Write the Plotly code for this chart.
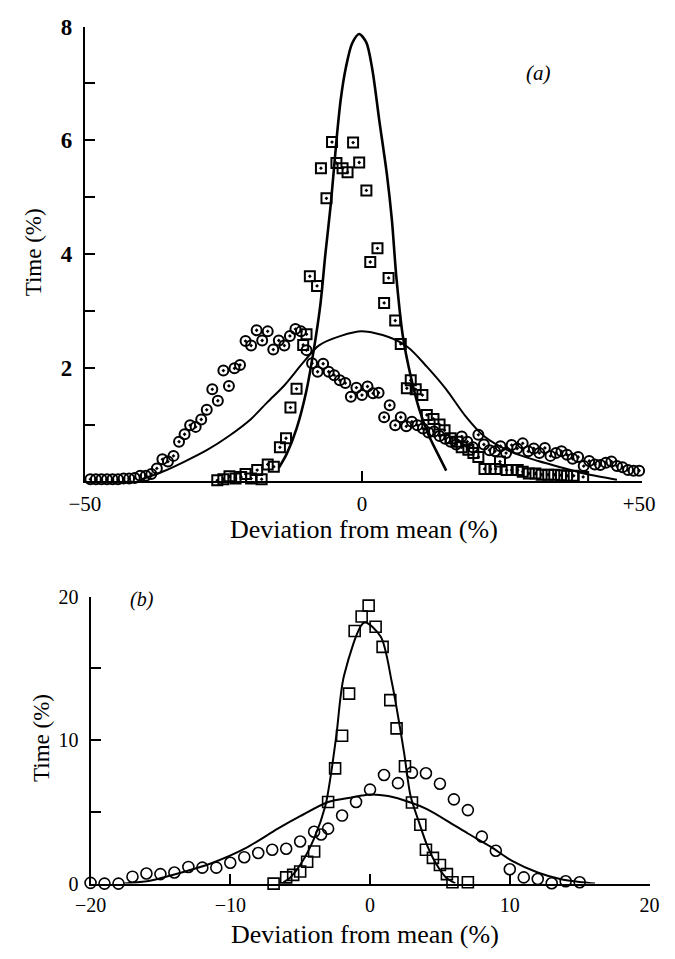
import plotly.graph_objects as go

# ---------------- Panel (a) data ----------------
a_circ_x = [-49, -48, -47, -46, -45, -44, -43, -42, -41, -40, -39, -38, -37, -36, -35, -34, -33, -32,
            -31, -30, -29, -28, -27, -26, -25, -24, -23, -22, -21, -20, -19, -18, -17, -16, -15, -14,
            -13, -12, -11, -10, -9, -8, -7, -6, -5, -4, -3, -2, -1, 0, 1, 2, 3, 4, 5, 6, 7, 8, 9, 10,
            11, 12, 13, 14, 15, 16, 17, 18, 19, 20, 21, 22, 23, 24, 25, 26, 27, 28, 29, 30, 31, 32,
            33, 34, 35, 36, 37, 38, 39, 40, 41, 42, 43, 44, 45, 46, 47, 48, 49, 50]
a_circ_y = [0.04, 0.04, 0.04, 0.04, 0.04, 0.04, 0.05, 0.05, 0.06, 0.10, 0.10, 0.13, 0.23, 0.39, 0.35,
            0.45, 0.70, 0.83, 0.99, 0.96, 1.09, 1.26, 1.62, 1.42, 1.95, 1.68, 1.99, 2.05, 2.47, 2.39,
            2.66, 2.48, 2.64, 2.32, 2.48, 2.39, 2.56, 2.68, 2.64, 2.31, 2.08, 1.93, 2.07, 1.93, 1.87,
            1.78, 1.73, 1.49, 1.65, 1.52, 1.67, 1.55, 1.56, 1.13, 1.34, 0.99, 1.13, 0.97, 1.05, 0.99,
            0.93, 0.86, 0.88, 0.80, 0.75, 0.70, 0.65, 0.79, 0.70, 0.60, 0.82, 0.65, 0.55, 0.53, 0.62,
            0.50, 0.64, 0.58, 0.67, 0.53, 0.58, 0.50, 0.59, 0.45, 0.50, 0.53, 0.47, 0.40, 0.43, 0.27,
            0.36, 0.30, 0.29, 0.33, 0.35, 0.27, 0.25, 0.20, 0.19, 0.19]

a_sq_x = [-26.1, -25.0, -23.9, -22.8, -21.8, -21.0, -20.0, -18.9, -18.1, -17.0, -15.9, -14.8, -13.7,
          -12.9, -11.8, -10.6, -10.0, -9.4, -8.1, -7.4, -6.4, -5.4, -4.6, -3.5, -2.6, -1.6, -0.5,
          0.8, 1.5, 2.8, 4.0, 4.8, 6.0, 7.0, 8.1, 8.8, 9.7, 10.9, 11.7, 12.9, 14.0, 14.9, 16.0,
          17.2, 18.0, 19.2, 20.1, 21.0, 22.1, 23.2, 24.1, 24.9, 26.1, 27.0, 28.1, 29.0, 30.1, 31.3,
          32.4, 33.6, 34.7, 35.9, 37.0, 38.2, 39.9]
a_sq_y = [0.02, 0.04, 0.09, 0.05, 0.08, 0.13, 0.05, 0.20, 0.04, 0.30, 0.26, 0.60, 0.76, 1.30, 1.63,
          2.40, 2.59, 3.61, 3.44, 5.51, 4.98, 5.97, 5.60, 5.51, 5.44, 5.96, 5.61, 5.12, 3.86, 4.10,
          3.14, 3.58, 2.83, 2.42, 1.64, 1.78, 1.62, 1.52, 1.17, 1.10, 1.00, 0.90, 0.76, 0.70, 0.60,
          0.56, 0.50, 0.43, 0.22, 0.22, 0.22, 0.35, 0.20, 0.20, 0.20, 0.17, 0.14, 0.14, 0.12, 0.12,
          0.12, 0.11, 0.10, 0.10, 0.08]

a_narrow_x = [-15.0, -13.6, -11.8, -10.1, -8.7, -7.5, -6.6, -5.6, -4.6, -3.8, -2.9, -1.8, -0.5, 0.8,
              1.9, 3.1, 4.5, 5.4, 6.2, 7.4, 8.8, 10.3, 12.0, 13.7, 15.2]
a_narrow_y = [0.24, 0.48, 0.93, 1.56, 2.31, 3.11, 4.00, 4.90, 6.00, 6.74, 7.28, 7.70, 7.87, 7.72,
              7.23, 6.37, 5.40, 4.60, 3.60, 2.54, 1.85, 1.28, 0.82, 0.48, 0.19]

a_wide_x = [-40, -36, -32, -28, -24, -20, -17, -14.1, -10.7, -7.8, -3.8, 0, 4.8, 8.3, 11.7, 15.2,
            18.6, 22.1, 26.7, 31.8, 37.0, 40.5, 46]
a_wide_y = [0.03, 0.17, 0.35, 0.55, 0.80, 1.10, 1.40, 1.68, 2.08, 2.39, 2.56, 2.64, 2.54, 2.36,
            2.02, 1.62, 1.16, 0.79, 0.53, 0.36, 0.22, 0.13, 0.03]

# ---------------- Panel (b) data ----------------
b_circ_x = [-20, -19, -18, -17, -16, -15, -14, -13, -12, -11, -10, -9, -8, -7, -6, -5, -4, -3.5, -3,
            -2, -1, 0, 1, 2, 3, 4, 5, 6, 7, 8, 9, 10, 11, 12, 13, 14, 15]
b_circ_y = [0.05, 0.0, 0.0, 0.48, 0.70, 0.66, 0.77, 1.16, 1.11, 1.11, 1.45, 1.84, 2.13, 2.36, 2.43,
            2.93, 3.61, 3.42, 3.83, 4.74, 5.69, 6.55, 7.57, 7.00, 7.73, 7.69, 6.96, 5.87, 5.12, 3.27,
            2.29, 1.00, 0.43, 0.32, 0.02, 0.16, 0.09]

b_sq_x = [-6.9, -6.0, -5.5, -5.0, -4.5, -4.0, -3.0, -2.5, -2.0, -1.5, -1.1, -0.6, -0.1, 0.4, 0.9,
          1.45, 1.9, 2.5, 3.0, 3.6, 4.0, 4.5, 5.0, 5.5, 5.9, 7.0]
b_sq_y = [0.0, 0.43, 0.61, 0.84, 1.52, 2.24, 5.69, 8.03, 10.3, 13.24, 17.6, 18.62, 19.37, 17.9, 16.5,
          12.79, 10.82, 8.18, 5.65, 4.10, 2.36, 1.79, 1.29, 0.66, 0.09, 0.09]

b_narrow_x = [-6.2, -5.7, -4.9, -4.0, -3.2, -2.8, -2.4, -1.86, -0.4, 0.77, 1.56, 2.43, 2.9, 3.5,
              4.07, 4.75, 5.43, 6.1]
b_narrow_y = [0.09, 0.43, 1.45, 3.15, 5.4, 7.6, 10.4, 14.5, 18.2, 17.2, 14.03, 9.16, 6.1, 4.29, 2.7,
              1.34, 0.43, 0.02]

b_wide_x = [-17.6, -15.75, -13.5, -11.4, -8.9, -6.6, -5.0, -3.0, -1.4, 0.0, 1.3, 2.9, 4.07, 5.66,
            7.0, 8.6, 10.2, 12.0, 13.6, 15.2, 16.1]
b_wide_y = [0.0, 0.2, 0.77, 1.40, 2.47, 3.83, 4.7, 5.69, 5.99, 6.21, 6.1, 5.65, 5.19, 4.29, 3.49,
            2.59, 1.56, 0.77, 0.32, 0.09, 0.0]

# tick labels
a_xtick_vals = [-50, 0, 50]
a_xtick_text = ["\u221250", "0", "+50"]
a_ytick_vals = [2, 4, 6, 8]
b_xtick_vals = [-20, -10, 0, 10, 20]
b_xtick_text = ["\u221220", "\u221210", "0", "10", "20"]
b_ytick_vals = [0, 10, 20]

SERIF = "Liberation Serif"
W, H = 675, 959

fig = go.Figure()

def line(x, y, xa, ya, w):
    fig.add_trace(go.Scatter(x=x, y=y, mode="lines", xaxis=xa, yaxis=ya,
                             line=dict(color="black", width=w, shape="spline", smoothing=0.8),
                             hoverinfo="skip", showlegend=False))

def pts(x, y, xa, ya, sym, size, lw):
    fig.add_trace(go.Scatter(x=x, y=y, mode="markers", xaxis=xa, yaxis=ya, cliponaxis=False,
                             marker=dict(symbol=sym, size=size, color="black",
                                         line=dict(color="black", width=lw)),
                             showlegend=False))

# panel (a)
line(a_narrow_x, a_narrow_y, "x", "y", 2.6)
line(a_wide_x, a_wide_y, "x", "y", 2.0)
pts(a_circ_x, a_circ_y, "x", "y", "circle-open-dot", 10, 2)
pts(a_sq_x, a_sq_y, "x", "y", "square-open-dot", 10, 2)

# panel (b)
line(b_narrow_x, b_narrow_y, "x2", "y2", 2.0)
line(b_wide_x, b_wide_y, "x2", "y2", 2.0)
pts(b_circ_x, b_circ_y, "x2", "y2", "circle-open", 11, 1.6)
pts(b_sq_x, b_sq_y, "x2", "y2", "square-open", 11, 1.6)

axis_common = dict(showgrid=False, zeroline=False, showline=True, linecolor="black",
                   linewidth=2, tickcolor="black", tickwidth=2, fixedrange=True)

fig.update_layout(
    width=W, height=H,
    margin=dict(l=0, r=0, t=0, b=0),
    paper_bgcolor="white", plot_bgcolor="white",
    font=dict(family=SERIF, color="black"),
    xaxis=dict(**axis_common, domain=[72 / W, 655 / W], range=[-50, 50.5], anchor="y",
               tickmode="array", tickvals=a_xtick_vals, ticktext=a_xtick_text, ticks="",
               ticklabelstandoff=2, tickfont=dict(size=21, family=SERIF),
               minor=dict(tickmode="array", tickvals=[0], ticks="inside", ticklen=10,
                          tickwidth=2, tickcolor="black")),
    yaxis=dict(**axis_common, domain=[1 - 481 / H, 1 - 15 / H], range=[0, 8], anchor="x",
               tickmode="array", tickvals=a_ytick_vals, ticks="inside", ticklen=10,
               ticklabelstandoff=6, tickfont=dict(size=23, family=SERIF, weight="bold"),
               minor=dict(tickmode="array", tickvals=[1, 3, 5, 7], ticks="inside", ticklen=10,
                          tickwidth=2, tickcolor="black")),
    xaxis2=dict(**axis_common, domain=[78 / W, 663 / W], range=[-20, 20], anchor="y2",
                tickmode="array", tickvals=b_xtick_vals, ticktext=b_xtick_text, ticks="inside",
                ticklen=10, ticklabelstandoff=2, tickfont=dict(size=20, family=SERIF)),
    yaxis2=dict(**axis_common, domain=[1 - 893 / H, 1 - 599 / H], range=[0, 20], anchor="x2",
                tickmode="array", tickvals=b_ytick_vals, ticks="inside", ticklen=10,
                ticklabelstandoff=6, tickfont=dict(size=20, family=SERIF),
                minor=dict(tickmode="array", tickvals=[5, 15], ticks="inside", ticklen=10,
                           tickwidth=2, tickcolor="black")),
)

def text(s, px, py, size, angle=0, style="normal"):
    fig.add_annotation(text=s, x=px / W, y=1 - py / H, xref="paper", yref="paper",
                       showarrow=False, textangle=angle, xanchor="center", yanchor="middle",
                       font=dict(family=SERIF, size=size, color="black", style=style))

text("Time (%)", 18, 246, 23, angle=-90)
text("Deviation from mean (%)", 364, 530, 26)
text("(a)", 547, 63, 21, style="italic")
text("Time (%)", 26, 744, 23, angle=-90)
text("Deviation from mean (%)", 365, 945, 26)
text("(b)", 132, 602, 20, style="italic")

fig.write_html("out.html")
